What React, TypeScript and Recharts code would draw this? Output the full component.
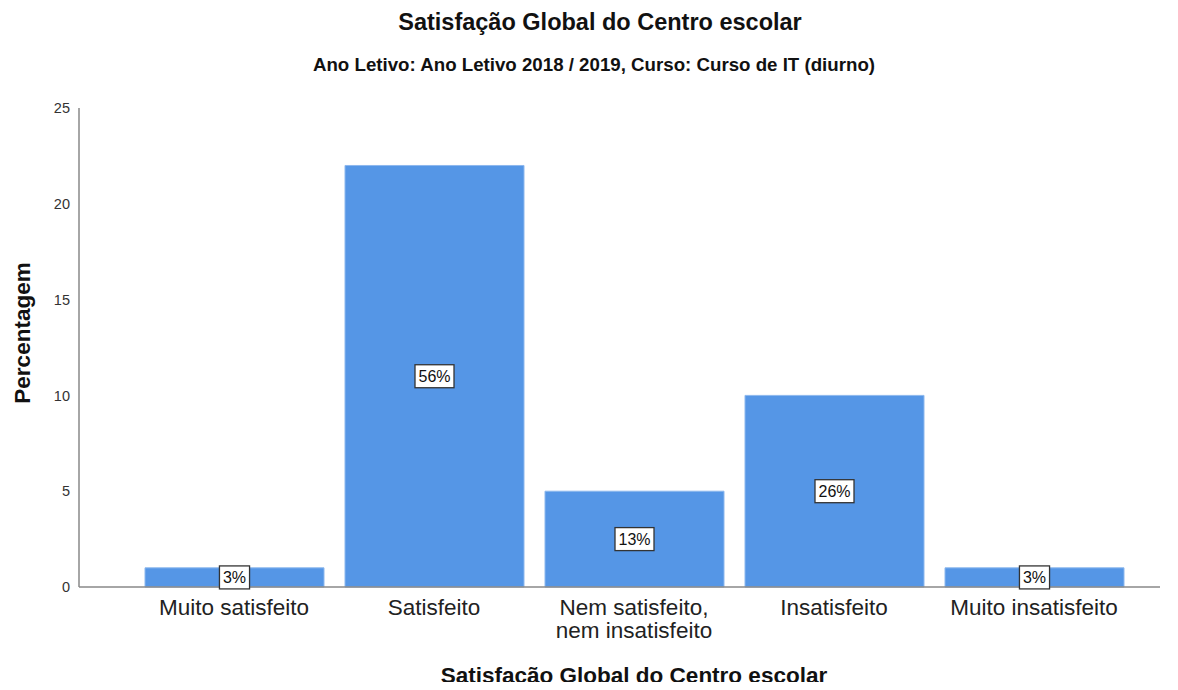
import { BarChart, Bar, XAxis, YAxis, LabelList, Label } from 'recharts';

const categories = [
  'Muito satisfeito',
  'Satisfeito',
  'Nem satisfeito, nem insatisfeito',
  'Insatisfeito',
  'Muito insatisfeito',
];
const counts = [1, 22, 5, 10, 1];
const shares = ['3%', '56%', '13%', '26%', '3%'];
const yTicks = [0, 5, 10, 15, 20, 25];

const data = categories.map((name, i) => ({ name, value: counts[i], share: shares[i] }));

const FONT = 'Arial, "Liberation Sans", sans-serif';

function CategoryTick(props: any) {
  const { x, y, payload } = props;
  const text: string = payload.value;
  const idx = text.indexOf(', ');
  const lines = idx > 0 ? [text.slice(0, idx + 1), text.slice(idx + 2)] : [text];
  return (
    <text x={x} y={y + 20} textAnchor="middle" fontSize={22.5} fill="#222" fontFamily={FONT}>
      {lines.map((l, i) => (
        <tspan key={i} x={x} dy={i === 0 ? 0 : 23}>{l}</tspan>
      ))}
    </text>
  );
}

function BoxLabel(props: any) {
  const { x, y, width, height, value } = props;
  const cx = x + width / 2;
  const cy = y + height / 2;
  const s = String(value);
  const w = (s.length - 1) * 8.9 + 14.2 + 7;
  const h = 23;
  return (
    <g>
      <rect x={cx - w / 2} y={cy - h / 2} width={w} height={h} fill="#fff" stroke="#333" strokeWidth={1.3} />
      <text x={cx} y={cy + 5.5} textAnchor="middle" fontSize={16} fill="#111" fontFamily={FONT}>{s}</text>
    </g>
  );
}

function YTitle() {
  const cy = 333;
  const x = 30;
  return (
    <text
      x={x}
      y={cy}
      transform={`rotate(-90, ${x}, ${cy})`}
      textAnchor="middle"
      fontSize={22.5}
      fontWeight="bold"
      fill="#111"
      fontFamily={FONT}
    >
      Percentagem
    </text>
  );
}

function XTitle(props: any) {
  const { viewBox } = props;
  return (
    <text x={634} y={viewBox.y + 96} textAnchor="middle" fontSize={22.5} fontWeight="bold" fill="#111" fontFamily={FONT}>
      Satisfação Global do Centro escolar
    </text>
  );
}

export default function App() {
  return (
    <div style={{ position: 'relative', width: 1178, height: 690, margin: -8, background: '#fff', fontFamily: FONT }}>
      <div style={{ position: 'absolute', top: 8, left: 11, width: 1178, textAlign: 'center', fontSize: 23.5, fontWeight: 'bold', color: '#111', lineHeight: '28px' }}>
        Satisfação Global do Centro escolar
      </div>
      <div style={{ position: 'absolute', top: 54, left: 5, width: 1178, textAlign: 'center', fontSize: 18.7, fontWeight: 'bold', color: '#111', lineHeight: '22px' }}>
        Ano Letivo: Ano Letivo 2018 / 2019, Curso: Curso de IT (diurno)
      </div>
      <BarChart
        width={1178}
        height={690}
        data={data}
        margin={{ top: 108, right: 18, bottom: 0, left: 0 }}
        barSize={179}
      >
        <XAxis
          dataKey="name"
          height={103}
          padding={{ left: 55, right: 26 }}
          axisLine={{ stroke: '#888', strokeWidth: 1.5 }}
          tickLine={false}
          tick={<CategoryTick />}
          interval={0}
        >
          <Label content={<XTitle />} />
        </XAxis>
        <YAxis
          width={79}
          domain={[0, 25]}
          ticks={yTicks}
          axisLine={{ stroke: '#888', strokeWidth: 1.5 }}
          tickLine={false}
          tickSize={6}
          tickMargin={3}
          tick={{ fontSize: 14.5, fill: '#333', fontFamily: FONT }}
        >
          <Label content={<YTitle />} />
        </YAxis>
        <Bar dataKey="value" fill="#5596E6" stroke="#8db8ee" strokeWidth={1} isAnimationActive={false}>
          <LabelList dataKey="share" content={<BoxLabel />} />
        </Bar>
      </BarChart>
    </div>
  );
}
